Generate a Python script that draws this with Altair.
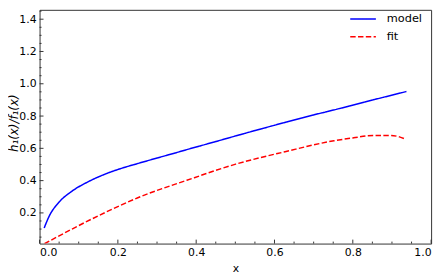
import altair as alt
import pandas as pd

# ---- data ----
model_x = [0.0117, 0.025, 0.05, 0.083, 0.125, 0.167, 0.209, 0.251, 0.3, 0.346, 0.376, 0.45, 0.501, 0.6, 0.7, 0.752, 0.85, 0.937]
model_y = [0.106, 0.182, 0.267, 0.335, 0.394, 0.440, 0.476, 0.506, 0.540, 0.571, 0.592, 0.642, 0.677, 0.743, 0.807, 0.838, 0.899, 0.952]

fit_x = [0.0125, 0.083, 0.167, 0.251, 0.376, 0.501, 0.627, 0.752, 0.802, 0.852, 0.898, 0.919, 0.936]
fit_y = [0.009, 0.100, 0.202, 0.294, 0.402, 0.502, 0.579, 0.647, 0.665, 0.680, 0.680, 0.671, 0.655]

series_names = ["model", "fit"]
series_colors = ["#0000ff", "#ff0000"]

x_major = [0.0, 0.2, 0.4, 0.6, 0.8, 1.0]
x_minor = [0.05, 0.1, 0.15, 0.25, 0.3, 0.35, 0.45, 0.5, 0.55, 0.65, 0.7, 0.75, 0.85, 0.9, 0.95]
y_major = [0.2, 0.4, 0.6, 0.8, 1.0, 1.2, 1.4]
y_minor = [0.05, 0.1, 0.15, 0.25, 0.3, 0.35, 0.45, 0.5, 0.55, 0.65, 0.7, 0.75, 0.85, 0.9, 0.95,
           1.05, 1.1, 1.15, 1.25, 1.3, 1.35, 1.45]

LEFT = 32
W, H = 397, 237
FONT = "DejaVu Sans"
FRAME = "#333333"

df = pd.DataFrame({
    "x": model_x + fit_x,
    "y": model_y + fit_y,
    "series": ["model"] * len(model_x) + ["fit"] * len(fit_x),
})

xs = alt.Scale(domain=[0, 1], nice=False, zero=False)
ys = alt.Scale(domain=[0.01, 1.458], nice=False, zero=False)

x_axis = alt.Axis(
    values=x_major, format=".1f", title="x", ticks=False, domain=False, grid=False,
    labelPadding=3, titlePadding=5, labelFontSize=11, titleFontSize=11,
    labelFont=FONT, titleFont=FONT, titleFontWeight="normal",
    labelColor="black", titleColor="black")
y_axis = alt.Axis(
    values=y_major, format=".1f", title="h₁(x)/f₁(x)", ticks=False, domain=False, grid=False,
    labelPadding=3.5, labelFontSize=11, titleFontSize=12, labelFont=FONT, titleFont=FONT,
    titleFontWeight="normal", titleFontStyle="italic", titleAngle=270, titleBaseline="top",
    titleX=-(LEFT - 0.5), titleY=114.5, labelColor="black", titleColor="black")

legend = alt.Legend(
    title=None, orient="none", legendX=314, legendY=1.2, symbolType="stroke",
    symbolSize=676, symbolStrokeWidth=1.5, labelOffset=10, clipHeight=16,
    rowPadding=2, padding=0, labelFontSize=11.5, labelFont=FONT, labelColor="black",
)

lines = alt.Chart(df).mark_line(interpolate="monotone", strokeWidth=1.5, clip=True).encode(
    x=alt.X("x:Q", scale=xs, axis=x_axis),
    y=alt.Y("y:Q", scale=ys, axis=y_axis),
    color=alt.Color("series:N", scale=alt.Scale(domain=series_names, range=series_colors), legend=legend),
    strokeDash=alt.StrokeDash("series:N", scale=alt.Scale(domain=series_names, range=[[1, 0], [5.5, 2.4]]), legend=legend),
)

def xticks(vals, length):
    return alt.Chart(pd.DataFrame({"x": vals})).mark_rule(color=FRAME, strokeWidth=1).encode(
        x=alt.X("x:Q", scale=xs, axis=x_axis), y=alt.value(H), y2=alt.value(H - length))

def yticks(vals, length):
    return alt.Chart(pd.DataFrame({"y": vals})).mark_rule(color=FRAME, strokeWidth=1).encode(
        y=alt.Y("y:Q", scale=ys, axis=y_axis), x=alt.value(0), x2=alt.value(length))

chart = alt.layer(
    lines, xticks(x_major, 4), xticks(x_minor, 2), yticks(y_major, 4), yticks(y_minor, 2)
).properties(
    width=W, height=H,
    autosize=alt.AutoSizeParams(type="none"),
    padding={"left": LEFT, "top": 0, "right": 8, "bottom": 30},
).configure_view(stroke=FRAME, strokeWidth=1)

chart.save("out.html", embed_options={"renderer": "svg", "actions": False})
